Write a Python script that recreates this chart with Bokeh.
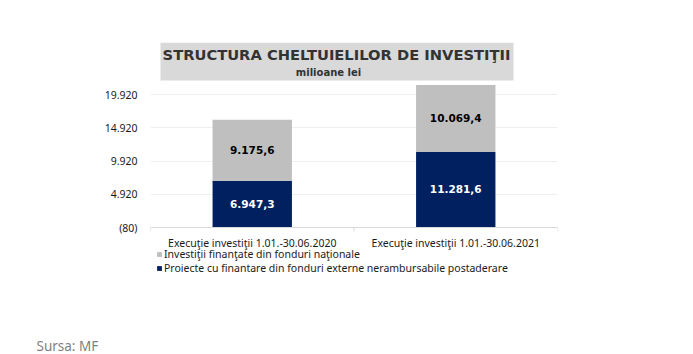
from bokeh.plotting import figure
from bokeh.models import (ColumnDataSource, FixedTicker, Legend, LegendItem,
                          Label, BoxAnnotation, Span, Title)
from bokeh.core.properties import value
from bokeh.embed import file_html
from bokeh.resources import INLINE

# ---- data ----
categories = ["Execuţie investiţii 1.01.-30.06.2020",
              "Execuţie investiţii 1.01.-30.06.2021"]
externe = [6947.3, 11281.6]      # Proiecte cu finantare din fonduri externe nerambursabile postaderare
nationale = [9175.6, 10069.4]    # Investitii finantate din fonduri nationale
series_names = ["Investiţii finanţate din fonduri naţionale",
                "Proiecte cu finantare din fonduri externe nerambursabile postaderare"]
y_ticks = [-80, 4920, 9920, 14920, 19920]
y_tick_labels = ["(80)", "4.920", "9.920", "14.920", "19.920"]
title_text = "STRUCTURA CHELTUIELILOR DE INVESTIŢII"
subtitle_text = "milioane lei"
source_text = "Sursa: MF"

NAVY = "#002060"
GREY = "#BFBFBF"
AXIS = "#d9d9d9"
TXT = "#1a1a1a"

def ro(v):
    s = f"{v:,.1f}"
    return s.replace(",", "X").replace(".", ",").replace("X", ".")

n = len(categories)
xs = [i + 0.5 for i in range(n)]
y0 = y_ticks[0]
src = ColumnDataSource(dict(x=xs, ext=externe, nat=nationale))

# frame: x 150..557, y 42..334 (canvas px); value axis -80 at y=227
p = figure(width=693, height=354, x_range=(0, n), y_range=(-16170, 27740),
           output_backend="svg", toolbar_location=None,
           min_border_left=150, min_border_right=136,
           min_border_top=42, min_border_bottom=20)
p.outline_line_color = None
p.background_fill_color = "white"
p.border_fill_color = "white"

rs = p.vbar_stack(["ext", "nat"], x="x", width=0.39, source=src,
                  color=[NAVY, GREY], line_color=None)

# value labels
lab = ColumnDataSource(dict(
    x=xs + xs,
    y=[e / 2 for e in externe] + [e + v / 2 for e, v in zip(externe, nationale)],
    t=[ro(v) for v in externe] + [ro(v) for v in nationale],
    c=["white"] * n + ["black"] * n,
))
p.text(x="x", y="y", text="t", text_color="c", source=lab,
       text_align="center", text_baseline="middle",
       text_font=value("DejaVu Sans"), text_font_style="bold",
       text_font_size="10.5px")

# value axis (library axis on the left)
p.yaxis.ticker = FixedTicker(ticks=y_ticks)
p.yaxis.major_label_overrides = {t: l for t, l in zip(y_ticks, y_tick_labels)}
p.yaxis.axis_line_color = None
p.yaxis.major_tick_line_color = None
p.yaxis.minor_tick_line_color = None
p.yaxis.major_tick_out = 0
p.yaxis.major_label_text_font = "Noto Sans"
p.yaxis.major_label_text_font_size = "10.5px"
p.yaxis.major_label_text_color = TXT
p.yaxis.major_label_standoff = 13

# category axis drawn at the value -80 baseline
p.xaxis.visible = False
p.add_layout(Span(location=y0, dimension="width", line_color=AXIS, line_width=1))
p.segment(x0=list(range(n + 1)), x1=list(range(n + 1)),
          y0=[y0] * (n + 1), y1=[y0 - 600] * (n + 1), line_color=AXIS)
p.text(x=xs, y=[y0] * n, text=categories, y_offset=8,
       text_align="center", text_baseline="top",
       text_font=value("Noto Sans"), text_font_size="10.5px", text_color=TXT)

p.xgrid.grid_line_color = None
p.ygrid.grid_line_color = "#eeeeee"
p.ygrid.ticker = FixedTicker(ticks=y_ticks[1:])

# legend under the category labels
legend = Legend(items=[LegendItem(label=series_names[0], renderers=[rs[1]]),
                       LegendItem(label=series_names[1], renderers=[rs[0]])],
                location=(6, 59), orientation="vertical",
                padding=0, margin=0, spacing=-1,
                glyph_width=6, glyph_height=6, label_standoff=2,
                label_height=13, label_text_font="Noto Sans",
                label_text_font_size="10.5px", label_text_color=TXT,
                border_line_color=None, background_fill_alpha=0)
p.add_layout(legend, "center")

# title box at top of frame (screen units from frame bottom-left)
box = BoxAnnotation(left=10, right=363, top=292, bottom=254,
                    left_units="screen", right_units="screen",
                    top_units="screen", bottom_units="screen",
                    fill_color="#D9D9D9", fill_alpha=1, line_color=None,
                    level="underlay")
p.add_layout(box)
p.add_layout(Label(x=186, y=280, x_units="screen", y_units="screen",
                   text=title_text,
                   text_align="center", text_baseline="middle",
                   text_font="DejaVu Sans", text_font_style="bold",
                   text_font_size="14.7px", text_color="#333333"))
p.add_layout(Label(x=178, y=262, x_units="screen", y_units="screen",
                   text=subtitle_text,
                   text_align="center", text_baseline="middle",
                   text_font="DejaVu Sans", text_font_style="bold",
                   text_font_size="10px", text_color="#333333"))

# source note below the frame
p.add_layout(Title(text=source_text, align="left", offset=-114,
                   vertical_align="bottom", standoff=0,
                   text_font="Noto Sans", text_font_size="13.5px",
                   text_font_style="normal", text_color="#7f7f7f"), "below")

open("out.html", "w").write(file_html(p, INLINE))
